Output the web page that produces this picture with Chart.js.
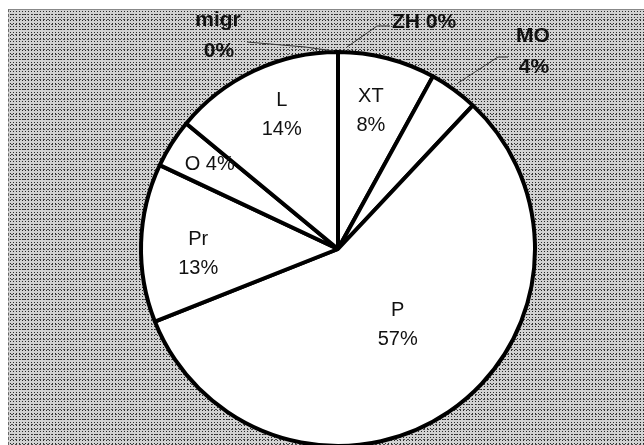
<!DOCTYPE html>
<html>
<head>
<meta charset="utf-8">
<script src="https://cdn.jsdelivr.net/npm/chart.js@4/dist/chart.umd.min.js"></script>
<style>
  html, body { margin: 0; padding: 0; background: #fff; overflow: hidden; }
  #wrap { position: relative; width: 644px; height: 445px; }
  #bg {
    position: absolute; left: 8px; top: 9px; right: 0; bottom: 0;
    background-color: #d2d2d2;
    background-image:
      radial-gradient(circle, #2a2a2a 0.6px, transparent 0.9px),
      radial-gradient(circle, #4a4a4a 0.6px, transparent 0.9px);
    background-size: 3px 3px, 4px 5px;
    background-position: 0 0, 1px 2px;
    border-left: 1px dashed #666;
    border-top: 1px solid #888;
  }
  canvas { position: absolute; left: 0; top: 0; }
</style>
</head>
<body>
<div id="wrap">
  <div id="bg"></div>
  <canvas id="chart" width="644" height="445"></canvas>
</div>
<script>
// slices clockwise from 12 o'clock
const slices = ["ZH", "XT", "MO", "P", "Pr", "O", "L", "migr"];
const shares = [0, 8, 4, 57, 13, 4, 14, 0];

// where each label sits (style only)
const insideLabels = {
  XT: { r: 0.72, shift: -1, oneLine: false },
  P: { r: 0.49, shift: -4, oneLine: false },
  Pr: { r: 0.71, shift: -4, oneLine: false },
  O: { r: 0.78, shift: 1, oneLine: true },
  L: { r: 0.74, shift: 2.5, oneLine: false },
};
// outside labels: text offsets from pie centre, leader line points
const outsideLabels = {
  ZH: { align: "left", lines: [[54, -221, "both"]], leader: [[9, -202], [39, -223], [52, -223]] },
  migr: { align: "center", lines: [[-120, -223, "name"], [-119, -192, "pct"]], leader: [[-4, -198], [-33, -202], [-91, -207]] },
  MO: { align: "center", lines: [[195, -207, "name"], [196, -176, "pct"]], leader: [[120, -166], [160, -192], [170, -192]] },
};

const total = shares.reduce((a, b) => a + b, 0);

const labelPlugin = {
  id: "sliceLabels",
  afterDatasetsDraw(chart) {
    const ctx = chart.ctx;
    const meta = chart.getDatasetMeta(0);
    ctx.save();
    ctx.fillStyle = "#111";
    meta.data.forEach((arc, i) => {
      const name = slices[i];
      const pct = Math.round((shares[i] / total) * 100) + "%";
      const { x, y, startAngle, endAngle, outerRadius } = arc.getProps(
        ["x", "y", "startAngle", "endAngle", "outerRadius"], true);
      if (insideLabels[name]) {
        const s = insideLabels[name];
        const a = (startAngle + endAngle) / 2 + (s.shift * Math.PI) / 180;
        const px = x + Math.cos(a) * outerRadius * s.r;
        const py = y + Math.sin(a) * outerRadius * s.r;
        ctx.font = "20px 'Liberation Sans', Arial, sans-serif";
        ctx.textAlign = "center";
        ctx.textBaseline = "middle";
        if (s.oneLine) {
          ctx.fillText(name + " " + pct, px, py);
        } else {
          ctx.fillText(name, px, py - 14.5);
          ctx.fillText(pct, px, py + 14.5);
        }
      } else if (outsideLabels[name]) {
        const s = outsideLabels[name];
        ctx.strokeStyle = "#333";
        ctx.lineWidth = 1;
        ctx.beginPath();
        s.leader.forEach((p, k) => {
          if (k === 0) ctx.moveTo(x + p[0], y + p[1]);
          else ctx.lineTo(x + p[0], y + p[1]);
        });
        ctx.stroke();
        ctx.font = "bold 21px 'Liberation Sans', Arial, sans-serif";
        ctx.textAlign = s.align;
        ctx.textBaseline = "alphabetic";
        s.lines.forEach((ln) => {
          const txt = ln[2] === "both" ? name + " " + pct : ln[2] === "name" ? name : pct;
          ctx.fillText(txt, x + ln[0], y + ln[1]);
        });
      }
    });
    ctx.restore();
  },
};

new Chart(document.getElementById("chart"), {
  type: "pie",
  data: {
    labels: slices,
    datasets: [
      {
        data: shares,
        backgroundColor: "#ffffff",
        borderColor: "#000000",
        borderWidth: 4,
      },
    ],
  },
  options: {
    responsive: false,
    animation: false,
    radius: 197,
    layout: { padding: { left: 32, top: 53, right: 0, bottom: 0 } },
    plugins: {
      legend: { display: false },
      tooltip: { enabled: false },
    },
  },
  plugins: [labelPlugin],
});
</script>
</body>
</html>
